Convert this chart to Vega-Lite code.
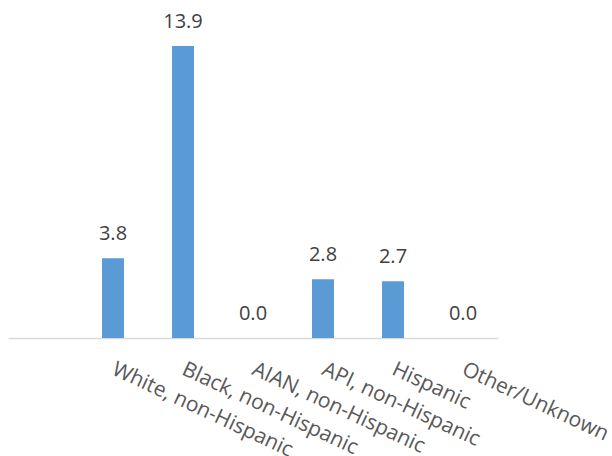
{
  "$schema": "https://vega.github.io/schema/vega-lite/v6.json",
  "width": 490,
  "height": 336,
  "autosize": {"type": "none"},
  "padding": {"left": 8, "top": 2, "right": 114, "bottom": 118},
  "background": "white",
  "config": {"view": {"stroke": null}, "font": "Open Sans"},
  "data": {
    "values": [
      {"group": "White, non-Hispanic", "rate": 3.8},
      {"group": "Black, non-Hispanic", "rate": 13.9},
      {"group": "AIAN, non-Hispanic", "rate": 0.0},
      {"group": "API, non-Hispanic", "rate": 2.8},
      {"group": "Hispanic", "rate": 2.7},
      {"group": "Other/Unknown", "rate": 0.0}
    ]
  },
  "encoding": {
    "x": {
      "field": "group",
      "type": "nominal",
      "sort": null,
      "scale": {
        "domain": ["", "White, non-Hispanic", "Black, non-Hispanic", "AIAN, non-Hispanic", "API, non-Hispanic", "Hispanic", "Other/Unknown"],
        "paddingInner": 0.686,
        "paddingOuter": 0.343
      },
      "axis": {
        "title": null,
        "ticks": false,
        "domainColor": "#d9d9d9",
        "domainWidth": 1.5,
        "labelAngle": 25,
        "labelAlign": "left",
        "labelBaseline": "top",
        "labelPadding": 20,
        "labelOffset": 5,
        "labelFontSize": 21,
        "labelColor": "#595959",
        "labelFont": "Open Sans",
        "labelOverlap": false,
        "labelLimit": 400,
        "grid": false
      }
    },
    "y": {
      "field": "rate",
      "type": "quantitative",
      "scale": {"domain": [0, 16], "nice": false},
      "axis": null
    }
  },
  "layer": [
    {"mark": {"type": "bar", "color": "#5B9BD5"}},
    {
      "mark": {"type": "text", "baseline": "alphabetic", "dy": -18, "fontSize": 20, "color": "#404040", "font": "Open Sans"},
      "encoding": {"text": {"field": "rate", "type": "quantitative", "format": ".1f"}}
    }
  ]
}
